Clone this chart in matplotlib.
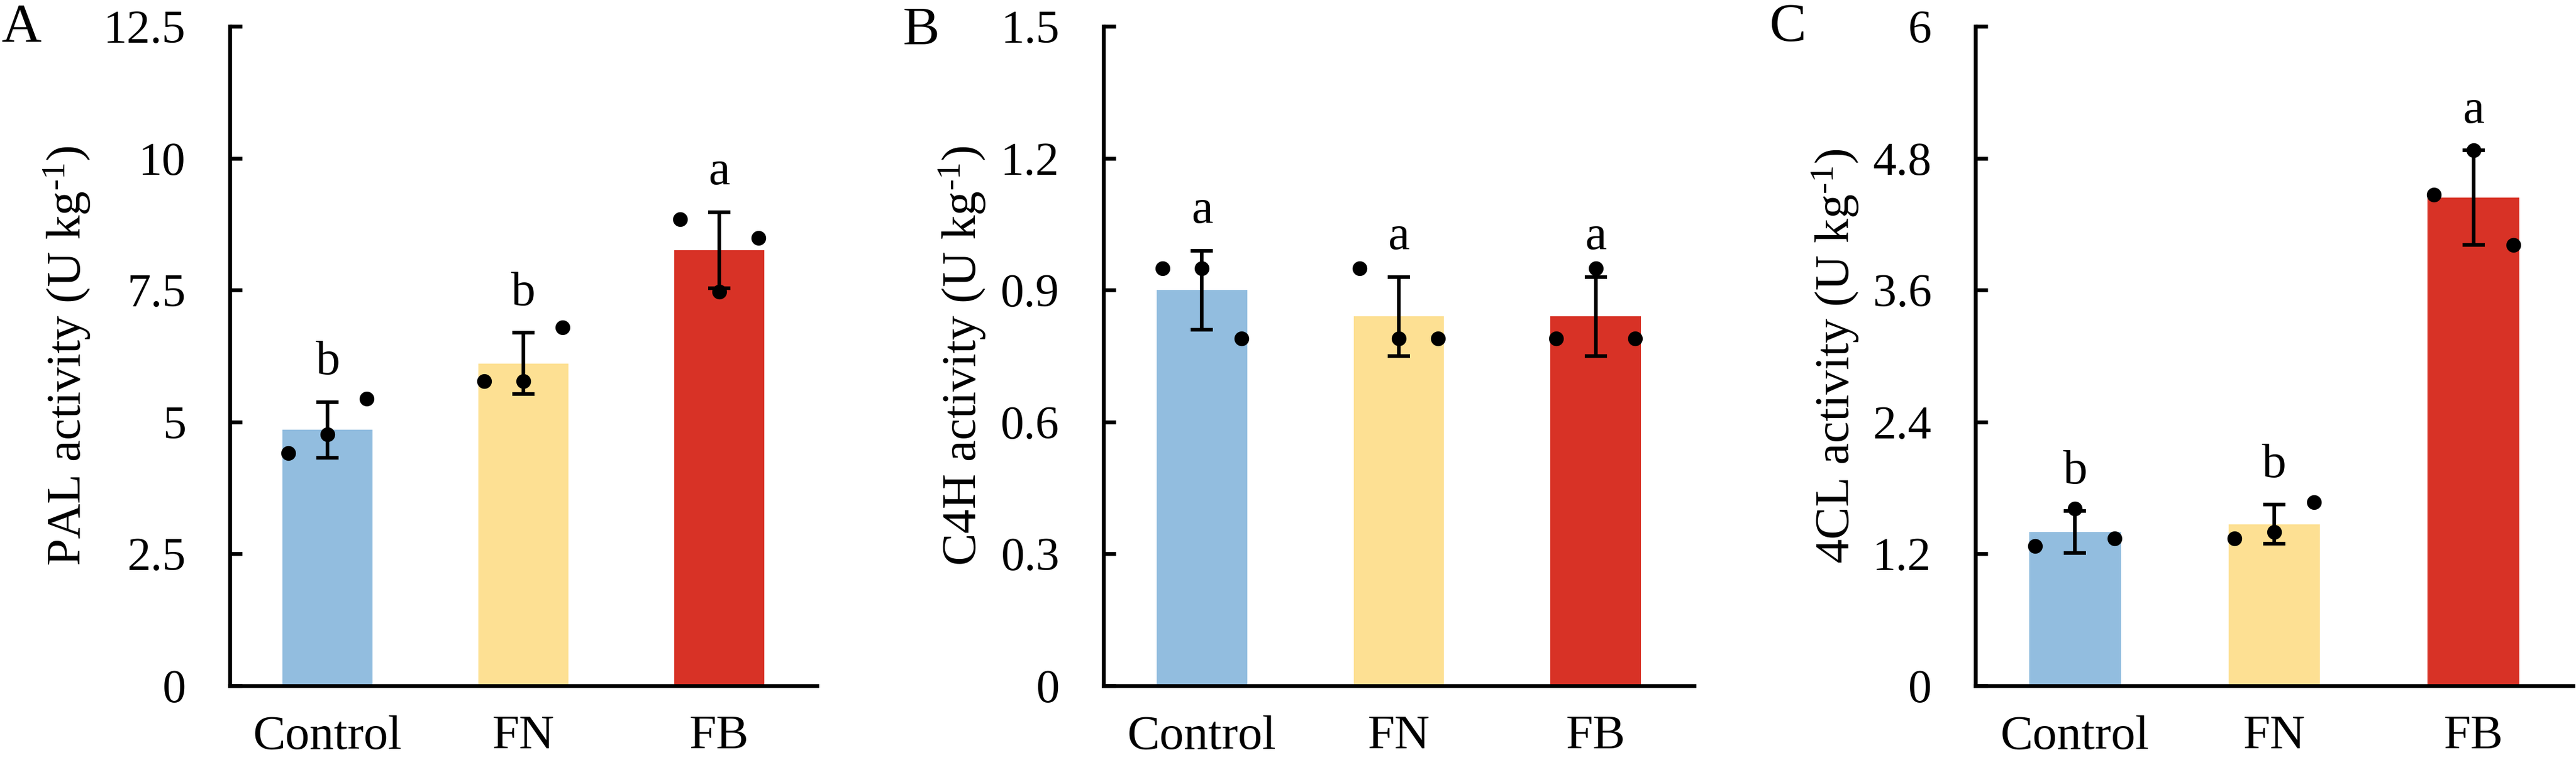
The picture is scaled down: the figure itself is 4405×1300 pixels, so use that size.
import numpy as np
import matplotlib
matplotlib.use('Agg')
import matplotlib.pyplot as plt

plt.rcParams['font.family'] = ['Liberation Serif', 'DejaVu Serif']
plt.rcParams['mathtext.fontset'] = 'custom'
plt.rcParams['mathtext.rm'] = 'Liberation Serif'
plt.rcParams['mathtext.it'] = 'Liberation Serif:italic'

groups = ['Control', 'FN', 'FB']
colors = ['#92BDDF', '#FDE093', '#D83226']

# PAL
pal_mean = [4.85, 6.11, 8.26]
pal_err = [0.53, 0.58, 0.72]
pal_pts = [[4.41, 4.76, 5.44], [5.77, 5.77, 6.79], [8.84, 7.47, 8.49]]
pal_sig = ['b', 'b', 'a']

# C4H
c4h_mean = [0.90, 0.84, 0.84]
c4h_err = [0.09, 0.09, 0.09]
c4h_pts = [[0.95, 0.95, 0.79], [0.95, 0.79, 0.79], [0.79, 0.95, 0.79]]
c4h_sig = ['a', 'a', 'a']

# 4CL
cl_mean = [1.40, 1.47, 4.44]
cl_err = [0.19, 0.18, 0.43]
cl_pts = [[1.27, 1.61, 1.34], [1.34, 1.40, 1.67], [4.47, 4.87, 4.01]]
cl_sig = ['b', 'b', 'a']

sup = '$^{\\mathregular{\u20101}}$'
panels = [
    ('A', 'PAL activity (U kg' + sup + ')', pal_mean, pal_err, pal_pts, pal_sig, 12.5, 2.5),
    ('B', 'C4H activity (U kg' + sup + ')', c4h_mean, c4h_err, c4h_pts, c4h_sig, 1.5, 0.3),
    ('C', '4CL activity (U kg' + sup + ')', cl_mean, cl_err, cl_pts, cl_sig, 6, 1.2),
]

W, H = 4405, 1300
fig = plt.figure(figsize=(W / 100, H / 100), dpi=100)

lefts = [393, 1887, 3378]
widths = [1004, 1010, 1022]
ylab_x = [115, 1646, 3139]
letter_x = [2, 1543, 3025]
letter_base = [72, 75, 70]
bottom_px, top_px = 1173, 45
fs = 60
x = np.arange(3)
offs = [-0.2, 0, 0.2]

for i, (tag, ylab, mean, err, pts, sig, ymax, step) in enumerate(panels):
    ax = fig.add_axes([lefts[i] / W, (H - bottom_px) / H, widths[i] / W, (bottom_px - top_px) / H])
    ax.bar(x, mean, width=0.46, color=colors, zorder=1)
    ax.errorbar(x, mean, yerr=err, fmt='none', ecolor='black', elinewidth=4.5,
                capsize=13.5, capthick=4.5, zorder=3)
    for j in range(3):
        ax.scatter(x[j] + np.array(offs), pts[j], s=330, color='black', zorder=4, linewidths=0)
        ax.annotate(sig[j], (x[j], mean[j] + err[j]), xytext=(0, 34), textcoords='offset points',
                    ha='center', va='baseline', fontsize=fs)
    ax.set_xlim(-0.5, 2.5)
    ax.set_ylim(0, ymax)
    ticks = np.round(np.arange(0, ymax + step / 2, step), 2)
    ax.set_yticks(ticks)
    ax.set_yticklabels(['{:g}'.format(t) for t in ticks])
    ax.set_xticks(x)
    ax.set_xticklabels(groups)
    for s in ['top', 'right']:
        ax.spines[s].set_visible(False)
    for s in ['left', 'bottom']:
        ax.spines[s].set_linewidth(4.7)
    ax.tick_params(axis='y', direction='in', length=15, width=4.7, pad=54, labelsize=58)
    ax.tick_params(axis='x', length=0, pad=36, labelsize=fs)
    fig.text(ylab_x[i] / W, 1 - (bottom_px + top_px) / 2 / H, ylab, rotation=90,
             ha='center', va='center', fontsize=fs)
    fig.text(letter_x[i] / W, 1 - letter_base[i] / H, tag, ha='left', va='baseline', fontsize=68)

fig.savefig('out.png', dpi=100)
